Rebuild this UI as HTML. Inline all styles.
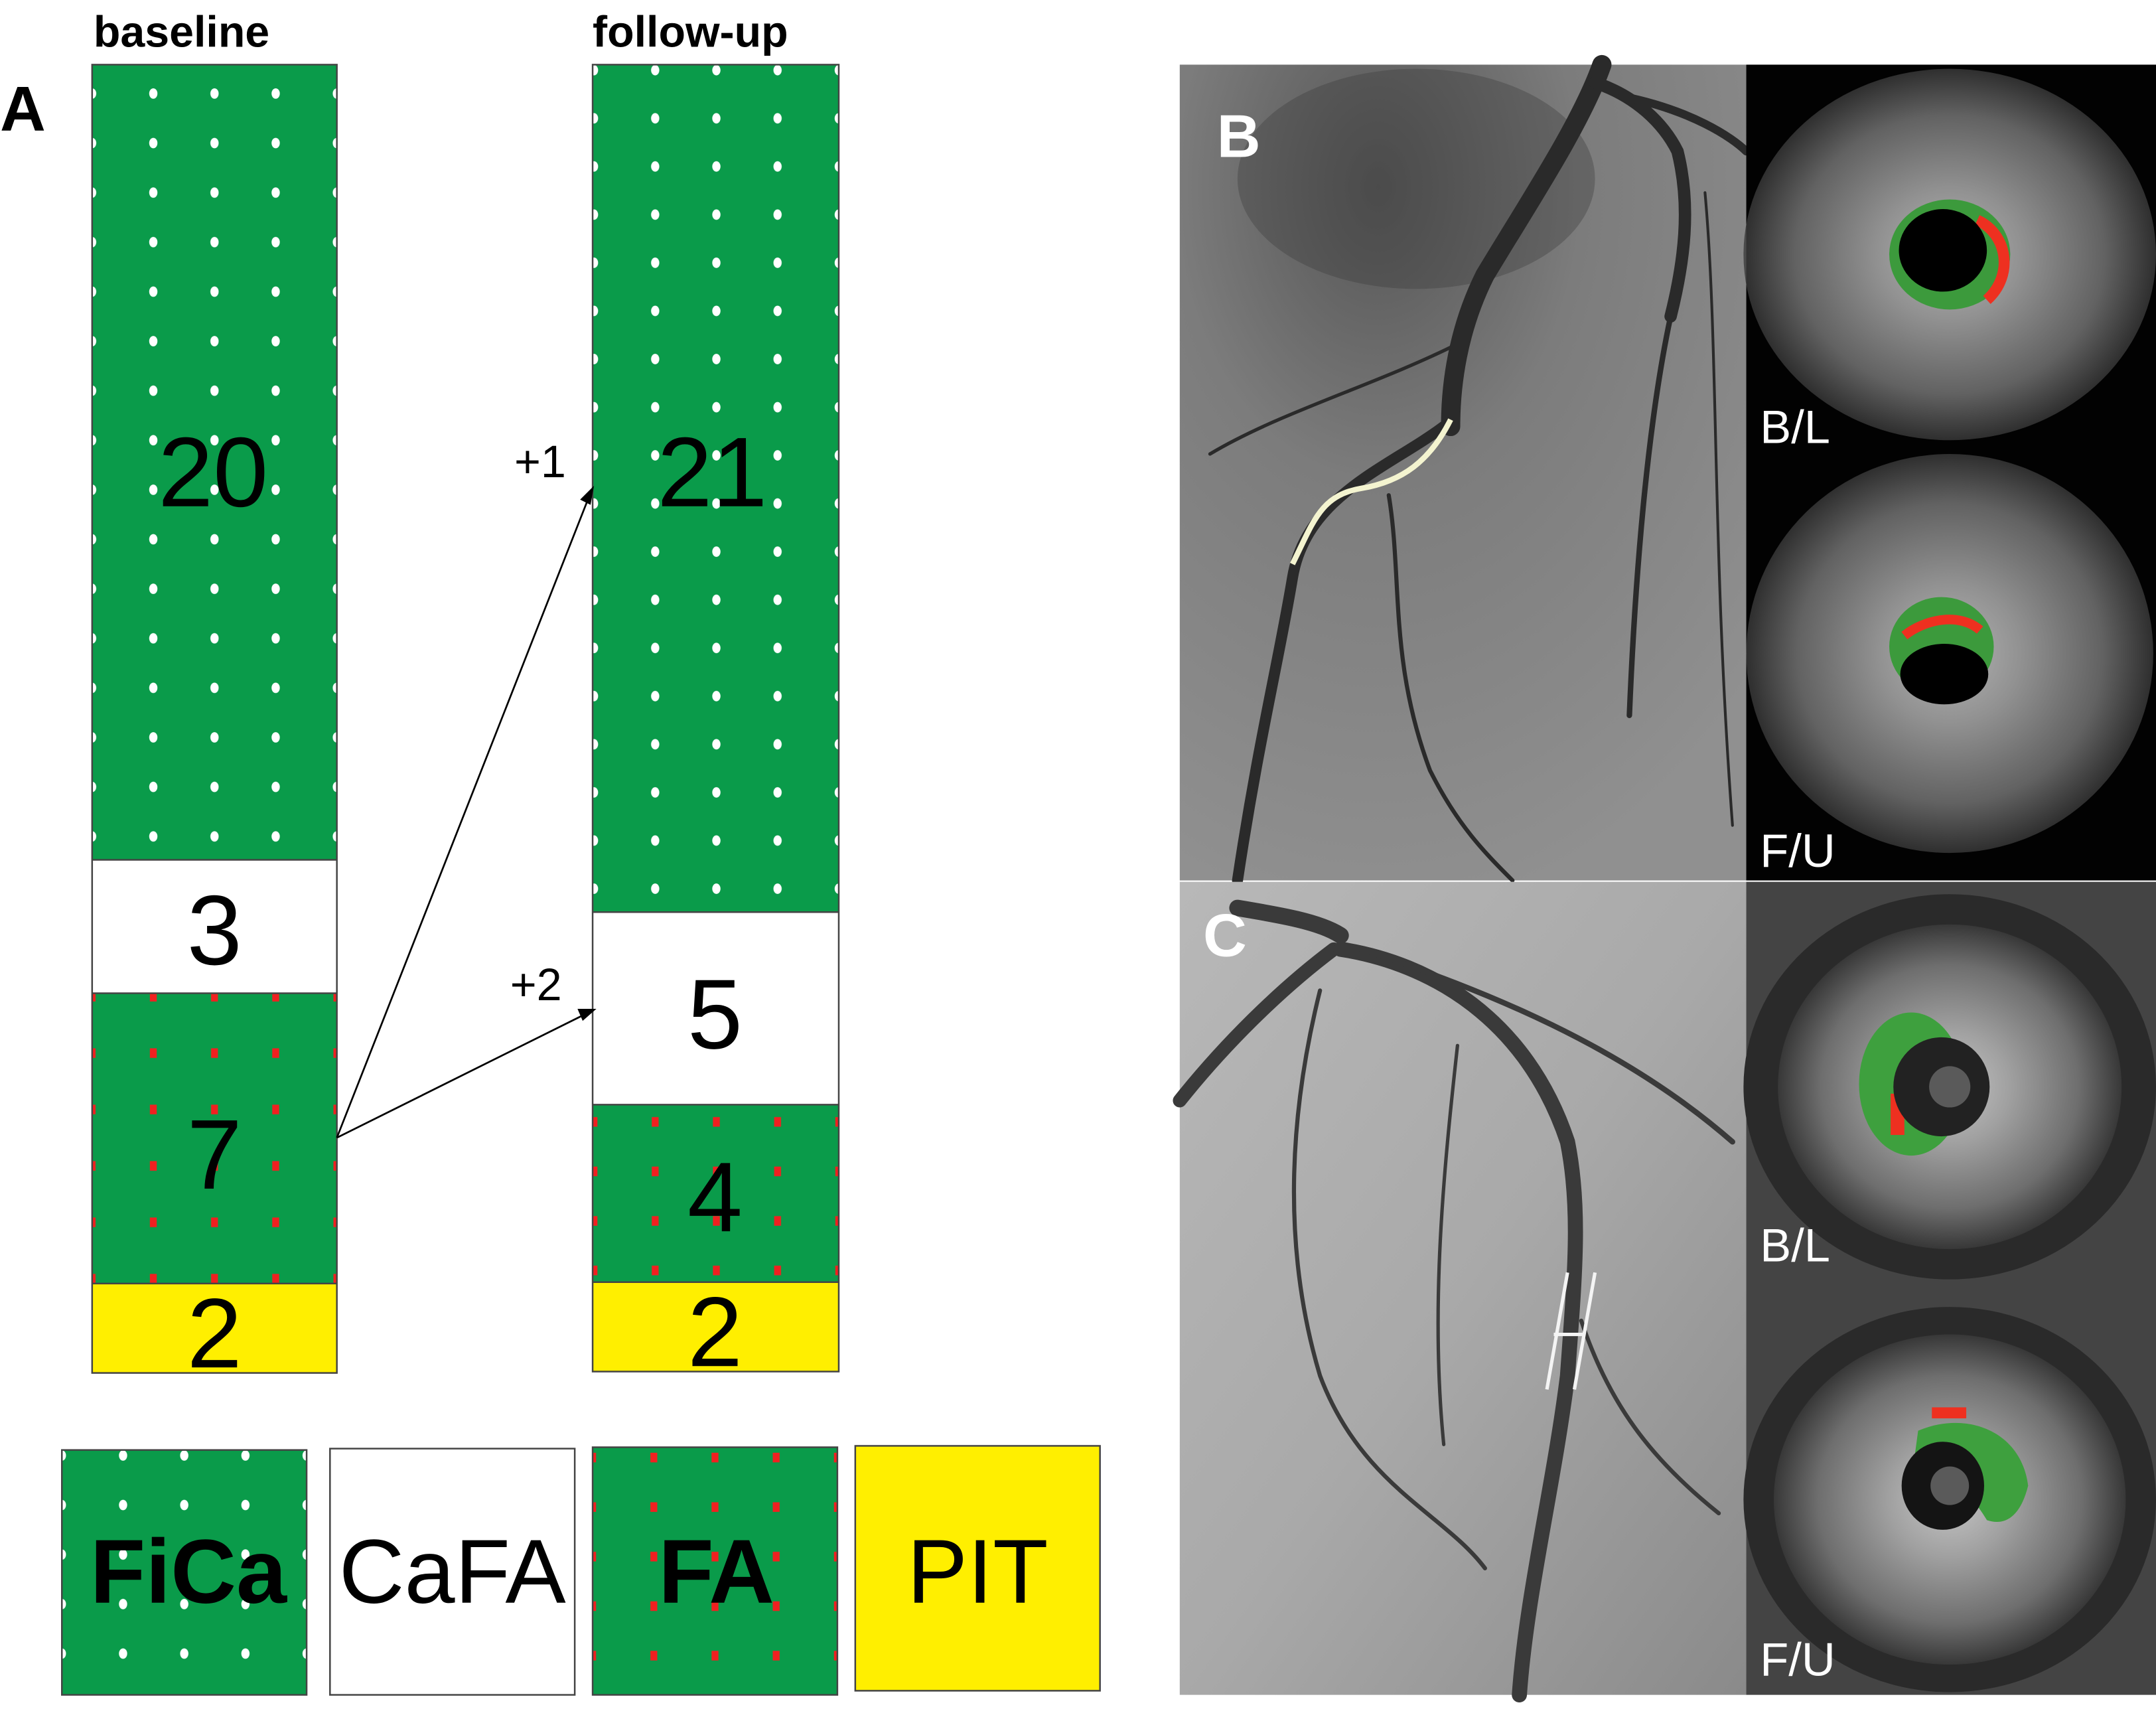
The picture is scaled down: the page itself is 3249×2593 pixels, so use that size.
<!DOCTYPE html>
<html><head><meta charset="utf-8"><style>
html,body{margin:0;padding:0;background:#fff}
svg{display:block}
text{font-family:"Liberation Sans",Arial,sans-serif}
</style></head><body>
<svg width="3249" height="2593" viewBox="0 0 1568 1251" preserveAspectRatio="none" xmlns="http://www.w3.org/2000/svg">
<defs>
<pattern id="wd1" patternUnits="userSpaceOnUse" x="67" y="50" width="44.5" height="36"><ellipse cx="0" cy="18" rx="3" ry="3.8" fill="#fff"/><ellipse cx="44.5" cy="18" rx="3" ry="3.8" fill="#fff"/></pattern>
<pattern id="wd2" patternUnits="userSpaceOnUse" x="432" y="68" width="44.5" height="35"><ellipse cx="0" cy="18" rx="3" ry="3.8" fill="#fff"/><ellipse cx="44.5" cy="18" rx="3" ry="3.8" fill="#fff"/></pattern>
<pattern id="rd1" patternUnits="userSpaceOnUse" x="67" y="705" width="44.5" height="41"><rect x="-2.5" y="16" width="5" height="7" fill="#f02020"/><rect x="42" y="16" width="5" height="7" fill="#f02020"/></pattern>
<pattern id="rd2" patternUnits="userSpaceOnUse" x="432" y="796" width="44.5" height="36"><rect x="-2.5" y="16" width="5" height="7" fill="#f02020"/><rect x="42" y="16" width="5" height="7" fill="#f02020"/></pattern>
<pattern id="wdl" patternUnits="userSpaceOnUse" x="45" y="1040" width="44.5" height="36"><ellipse cx="0" cy="18" rx="3" ry="3.8" fill="#fff"/><ellipse cx="44.5" cy="18" rx="3" ry="3.8" fill="#fff"/></pattern>
<pattern id="rdl" patternUnits="userSpaceOnUse" x="431" y="1040" width="44.5" height="36"><rect x="-2.5" y="16" width="5" height="7" fill="#f02020"/><rect x="42" y="16" width="5" height="7" fill="#f02020"/></pattern>
<radialGradient id="angB" cx="0.35" cy="0.15" r="0.9"><stop offset="0" stop-color="#555"/><stop offset="0.4" stop-color="#7c7c7c"/><stop offset="1" stop-color="#909090"/></radialGradient>
<linearGradient id="angC" x1="0" y1="0" x2="1" y2="1"><stop offset="0" stop-color="#b8b8b8"/><stop offset="0.5" stop-color="#a9a9a9"/><stop offset="1" stop-color="#8a8a8a"/></linearGradient>
<radialGradient id="ivus" cx="0.5" cy="0.5" r="0.5"><stop offset="0" stop-color="#e0e0e0"/><stop offset="0.35" stop-color="#b5b5b5"/><stop offset="0.75" stop-color="#7a7a7a"/><stop offset="1" stop-color="#3a3a3a"/></radialGradient>
</defs>

<!-- Panel A -->
<text x="68" y="34" font-size="32" font-weight="bold">baseline</text>
<text x="431" y="34" font-size="32" font-weight="bold">follow-up</text>
<text x="0" y="95" font-size="46" font-weight="bold">A</text>

<rect x="67" y="47" width="178" height="578" fill="#0a9b4a"/>
<rect x="67" y="47" width="178" height="578" fill="url(#wd1)"/>
<rect x="67" y="625" width="178" height="97" fill="#fff"/>
<rect x="67" y="722" width="178" height="211" fill="#0a9b4a"/>
<rect x="67" y="722" width="178" height="211" fill="url(#rd1)"/>
<rect x="67" y="933" width="178" height="65" fill="#ffef00"/>
<g fill="none" stroke="#444" stroke-width="1.2"><rect x="67" y="47" width="178" height="951"/><line x1="67" y1="625" x2="245" y2="625"/><line x1="67" y1="722" x2="245" y2="722"/><line x1="67" y1="933" x2="245" y2="933"/></g>

<rect x="431" y="47" width="179" height="616" fill="#0a9b4a"/>
<rect x="431" y="47" width="179" height="616" fill="url(#wd2)"/>
<rect x="431" y="663" width="179" height="140" fill="#fff"/>
<rect x="431" y="803" width="179" height="129" fill="#0a9b4a"/>
<rect x="431" y="803" width="179" height="129" fill="url(#rd2)"/>
<rect x="431" y="932" width="179" height="65" fill="#ffef00"/>
<g fill="none" stroke="#444" stroke-width="1.2"><rect x="431" y="47" width="179" height="950"/><line x1="431" y1="663" x2="610" y2="663"/><line x1="431" y1="803" x2="610" y2="803"/><line x1="431" y1="932" x2="610" y2="932"/></g>

<g font-size="72" text-anchor="middle" fill="#000">
<text x="155" y="368">20</text><text x="156" y="701">3</text><text x="156" y="864">7</text><text x="156" y="994">2</text>
<text x="518" y="368">21</text><text x="520" y="762">5</text><text x="520" y="895">4</text><text x="520" y="993">2</text>
</g>
<text x="374" y="347" font-size="33">+1</text>
<text x="371" y="727" font-size="33">+2</text>
<g stroke="#000" stroke-width="1.3" fill="#000">
<line x1="245" y1="827" x2="428" y2="362"/><polygon points="431,355 423,363 429,366"/>
<line x1="245" y1="827" x2="426" y2="737"/><polygon points="432,734 421,734 424,741"/>
</g>

<!-- Legend -->
<rect x="45" y="1054" width="178" height="178" fill="#0a9b4a"/>
<rect x="45" y="1054" width="178" height="178" fill="url(#wdl)"/>
<rect x="240" y="1053" width="178" height="179" fill="#fff" stroke="#444" stroke-width="1.2"/>
<rect x="431" y="1052" width="178" height="180" fill="#0a9b4a"/>
<rect x="431" y="1052" width="178" height="180" fill="url(#rdl)"/>
<rect x="622" y="1051" width="178" height="178" fill="#ffef00" stroke="#444" stroke-width="1.2"/>
<rect x="45" y="1054" width="178" height="178" fill="none" stroke="#444" stroke-width="1.2"/>
<rect x="431" y="1052" width="178" height="180" fill="none" stroke="#444" stroke-width="1.2"/>
<g font-size="66" text-anchor="middle">
<text x="137" y="1165" font-weight="bold">FiCa</text>
<text x="329" y="1165">CaFA</text>
<text x="521" y="1165" font-weight="bold">FA</text>
<text x="711" y="1165">PIT</text>
</g>

<!-- Panel B angiogram -->
<rect x="858" y="47" width="412" height="593" fill="url(#angB)"/>
<ellipse cx="1030" cy="130" rx="130" ry="80" fill="#3a3a3a" opacity="0.35"/>
<g fill="none" stroke="#2a2a2a" stroke-linecap="round">
<path d="M1165,47 C1150,90 1110,150 1080,200 C1060,240 1055,280 1055,310" stroke-width="14"/>
<path d="M1160,60 C1190,70 1210,90 1220,110 C1230,150 1225,190 1215,230" stroke-width="9"/>
<path d="M1215,230 C1200,300 1190,400 1185,520" stroke-width="4"/>
<path d="M1050,310 C1010,340 950,360 940,420 C930,480 915,540 900,640" stroke-width="8"/>
<path d="M1180,70 C1230,80 1260,100 1270,110" stroke-width="6"/>
<path d="M1010,360 C1020,420 1010,480 1040,560 C1060,600 1080,620 1100,640" stroke-width="3"/>
<path d="M1060,250 C1000,280 930,300 880,330" stroke-width="2.5"/>
<path d="M1240,140 C1250,250 1245,400 1260,600" stroke-width="2"/>
</g>
<path d="M940,410 C955,380 960,360 990,355 C1020,350 1040,335 1055,305" stroke="#f4f4d0" stroke-width="4" fill="none"/>
<text x="885" y="114" font-size="44" font-weight="bold" fill="#fff">B</text>

<!-- Panel B IVUS -->
<rect x="1270" y="47" width="298" height="593" fill="#020202"/>
<ellipse cx="1418" cy="185" rx="150" ry="135" fill="url(#ivus)" opacity="0.8"/>
<ellipse cx="1418" cy="185" rx="44" ry="40" fill="#3c9a3c"/>
<path d="M1438,160 C1460,170 1465,200 1445,218" stroke="#ee3020" stroke-width="8" fill="none"/>
<ellipse cx="1413" cy="182" rx="32" ry="30" fill="#000"/>
<ellipse cx="1418" cy="475" rx="148" ry="145" fill="url(#ivus)" opacity="0.8"/>
<ellipse cx="1412" cy="470" rx="38" ry="36" fill="#3c9a3c"/>
<path d="M1385,462 C1400,450 1425,445 1440,458" stroke="#ee3020" stroke-width="7" fill="none"/>
<ellipse cx="1414" cy="490" rx="32" ry="22" fill="#000"/>
<text x="1280" y="322" font-size="34" fill="#fff">B/L</text>
<text x="1280" y="630" font-size="34" fill="#fff">F/U</text>

<!-- Panel C angiogram -->
<rect x="858" y="641" width="412" height="591" fill="url(#angC)"/>
<g fill="none" stroke="#3a3a3a" stroke-linecap="round">
<path d="M900,660 C930,665 960,670 975,680" stroke-width="12"/>
<path d="M970,690 C930,720 890,760 858,800" stroke-width="10"/>
<path d="M975,690 C1040,700 1110,740 1140,830 C1150,880 1145,930 1140,1000 C1130,1080 1110,1160 1105,1232" stroke-width="11"/>
<path d="M990,690 C1080,720 1180,760 1260,830" stroke-width="4"/>
<path d="M960,720 C940,800 930,900 960,1000 C990,1080 1050,1100 1080,1140" stroke-width="3"/>
<path d="M1150,960 C1170,1020 1200,1060 1250,1100" stroke-width="3"/>
<path d="M1060,760 C1050,850 1040,950 1050,1050" stroke-width="2.5"/>
</g>
<path d="M1140,925 L1125,1010 M1160,925 L1145,1010 M1130,970 L1152,970" stroke="#f4f4f4" stroke-width="2.5" fill="none"/>
<text x="875" y="695" font-size="44" font-weight="bold" fill="#fff">C</text>

<!-- Panel C IVUS -->
<rect x="1270" y="641" width="298" height="591" fill="#444"/>
<ellipse cx="1418" cy="790" rx="150" ry="140" fill="#2a2a2a"/>
<ellipse cx="1418" cy="790" rx="125" ry="118" fill="url(#ivus)" opacity="0.85"/>
<ellipse cx="1390" cy="788" rx="38" ry="52" fill="#3ea03e"/>
<rect x="1375" y="795" width="10" height="30" fill="#ee3020"/>
<ellipse cx="1412" cy="790" rx="35" ry="36" fill="#222"/>
<ellipse cx="1418" cy="790" rx="15" ry="15" fill="#5a5a5a"/>
<ellipse cx="1418" cy="1090" rx="150" ry="140" fill="#2a2a2a"/>
<ellipse cx="1418" cy="1090" rx="128" ry="120" fill="url(#ivus)" opacity="0.85"/>
<path d="M1395,1040 C1430,1025 1470,1040 1475,1080 C1470,1100 1460,1110 1445,1105 C1430,1080 1410,1065 1392,1062 Z" fill="#3ea03e"/>
<rect x="1405" y="1023" width="25" height="8" fill="#ee3020"/>
<ellipse cx="1413" cy="1080" rx="30" ry="32" fill="#141414"/>
<ellipse cx="1418" cy="1080" rx="14" ry="14" fill="#5a5a5a"/>
<text x="1280" y="917" font-size="34" fill="#fff">B/L</text>
<text x="1280" y="1218" font-size="34" fill="#fff">F/U</text>
</svg>
</body></html>
